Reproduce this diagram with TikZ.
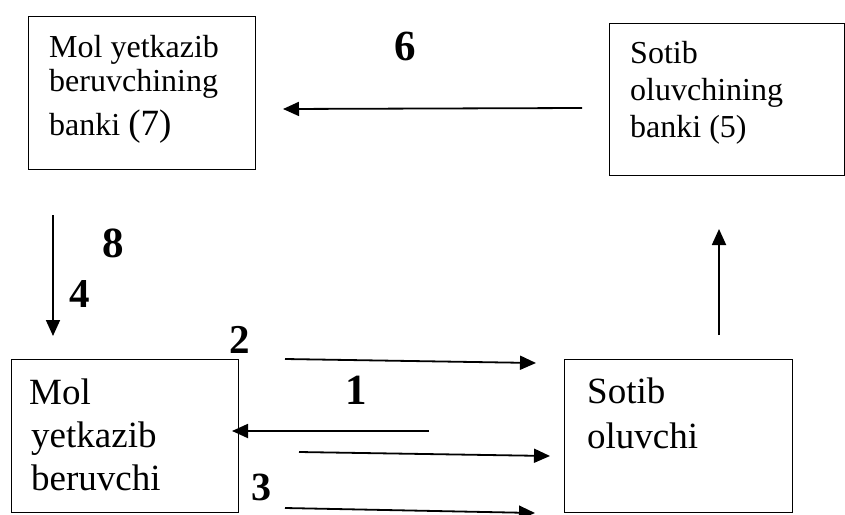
\documentclass[tikz,border=0pt]{standalone}
\usepackage{fontspec}
\setmainfont{Liberation Serif}
\usetikzlibrary{arrows.meta}
\begin{document}
\begin{tikzpicture}[x=1pt,y=-1pt,
  box/.style={draw,line width=1.4pt,anchor=north west,inner sep=0pt},
  txt/.style={anchor=base west,inner sep=0pt,font=\fontsize{32}{34}\selectfont},
  txtb/.style={anchor=base west,inner sep=0pt,font=\fontsize{37}{40}\selectfont},
  num/.style={anchor=base west,inner sep=0pt,font=\bfseries\fontsize{#1}{#1}\selectfont},
  arr/.style={line width=1.8pt,-{Triangle[length=16pt,width=14pt]}}]
\useasboundingbox (0,0) rectangle (845,514);
% boxes
\node[box,minimum width=227pt,minimum height=153pt] (b7) at (28,16) {};
\node[box,minimum width=235pt,minimum height=152pt] (b5) at (609,23) {};
\node[box,minimum width=227pt,minimum height=153pt] (bm) at (11,359) {};
\node[box,minimum width=228pt,minimum height=153pt] (bs) at (564,359) {};
% box texts
\node[txt] (t7a) at (49,57) {Mol yetkazib};
\node[txt] (t7b) at (49,91) {beruvchining};
\node[txt] (t7c) at (49,135) {banki {\fontsize{37}{40}\selectfont(7)}};
\node[txt] (t5a) at (630,63) {Sotib};
\node[txt] (t5b) at (630,100) {oluvchining};
\node[txt] (t5c) at (630,137) {banki (5)};
\node[txtb] (tma) at (29,404) {Mol};
\node[txtb] (tmb) at (31,447) {yetkazib};
\node[txtb] (tmc) at (31,490) {beruvchi};
\node[txtb] (tsa) at (587,403) {Sotib};
\node[txtb] (tsb) at (587,448) {oluvchi};
% numbers
\node[num=43] (n6) at (394,60) {6};
\node[num=43] (n8) at (102,257) {8};
\node[num=41] (n4) at (69,307) {4};
\node[num=41] (n2) at (229,353) {2};
\node[num=43] (n1) at (345,404) {1};
\node[num=40] (n3) at (251,500) {3};
% arrow end points
\coordinate (a6s) at (582,108);
\coordinate (a6e) at (283,109);
\coordinate (a8s) at (53,215);
\coordinate (a8e) at (53,336);
\coordinate (aus) at (719,335);
\coordinate (aue) at (719,229);
\coordinate (a2s) at (285,359);
\coordinate (a2e) at (536,363);
\coordinate (a1s) at (429,431);
\coordinate (a1e) at (232,431);
\coordinate (ams) at (299,452);
\coordinate (ame) at (550,456);
\coordinate (a3s) at (285,508);
\coordinate (a3e) at (535,513);
% arrows
\draw[arr] (a6s) -- (a6e);
\draw[arr] (a8s) -- (a8e);
\draw[arr] (aus) -- (aue);
\draw[arr] (a2s) -- (a2e);
\draw[arr] (a1s) -- (a1e);
\draw[arr] (ams) -- (ame);
\draw[arr] (a3s) -- (a3e);
\end{tikzpicture}
\end{document}
